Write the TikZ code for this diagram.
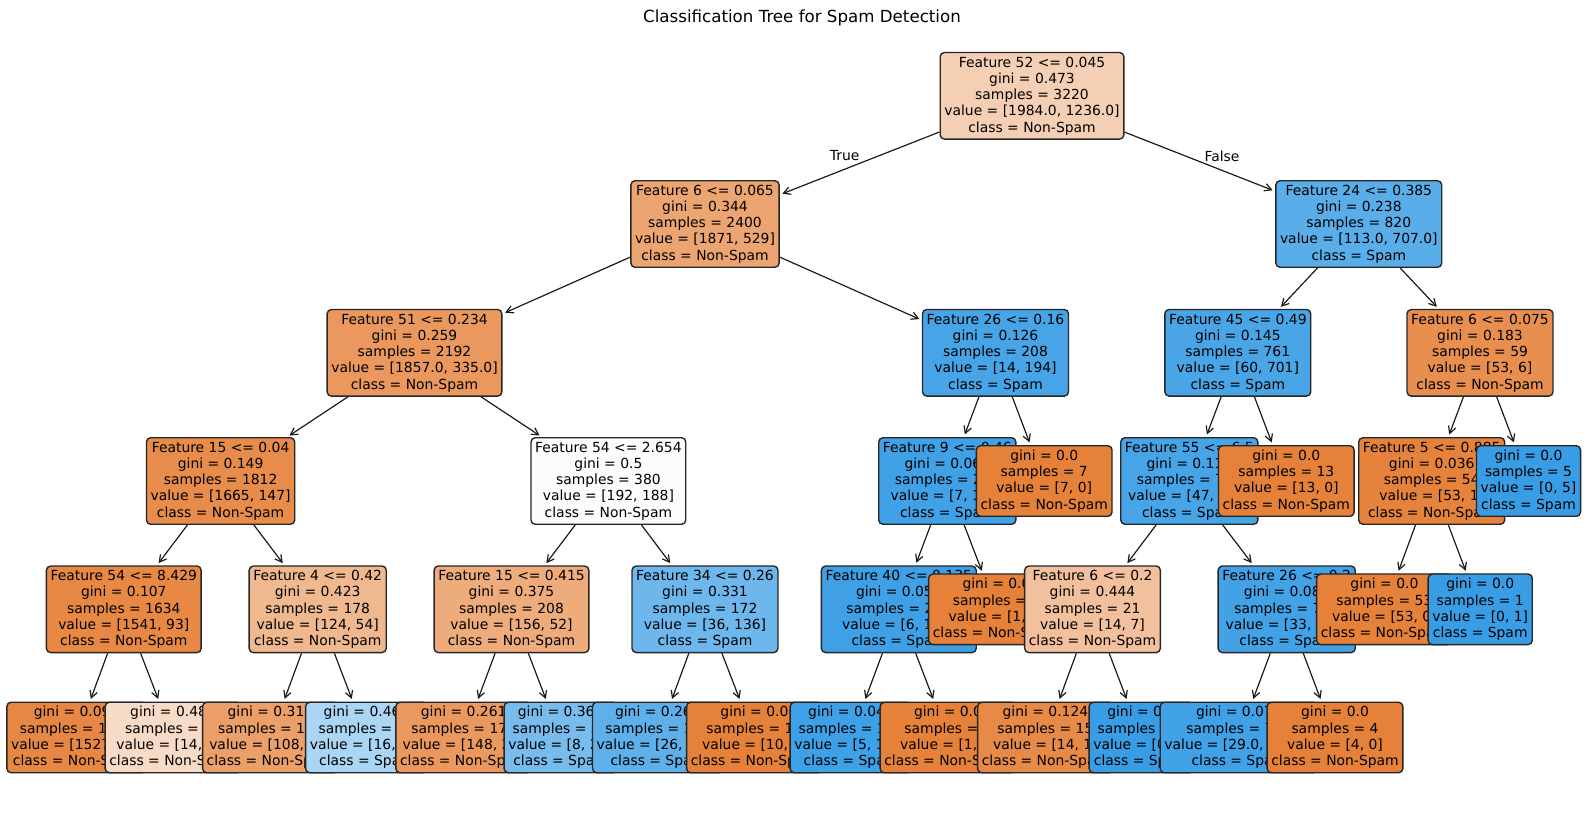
\documentclass[tikz,border=0pt]{standalone}
\usepackage{fontspec}
\setmainfont{DejaVu Sans}
\usetikzlibrary{arrows.meta}
\definecolor{cO}{RGB}{229,129,57}
\definecolor{cB}{RGB}{57,157,229}
\newcommand\nfont{\fontsize{10pt}{11.7pt}\selectfont}
\newcommand\tn[4]{\node[tbox, fill=#2] (#1) at (#3) {#4};}
\pgfdeclarelayer{bg}
\pgfdeclarelayer{lfive}
\pgfdeclarelayer{lfour}
\pgfdeclarelayer{lthree}
\pgfdeclarelayer{ltwo}
\pgfdeclarelayer{lone}
\pgfdeclarelayer{lzero}
\pgfsetlayers{bg,lfive,lfour,lthree,ltwo,lone,lzero,main}
\begin{document}
\begin{tikzpicture}[x=0.72pt,y=-0.72pt,
  tbox/.style={draw=black!85, line width=1pt, rounded corners=3pt, inner xsep=3pt, inner ysep=3pt, align=center, font=\nfont},
  arr/.style={-{Straight Barb[length=5pt,width=5.5pt]}, line width=0.85pt, black!90, shorten >=2pt},
  lbl/.style={font=\nfont, inner sep=0pt}]
\useasboundingbox (0,0) rectangle (1587,812);
\begin{pgfonlayer}{bg}
\fill[white] (0,0) rectangle (1587,812);
\end{pgfonlayer}
% depth 0
\begin{pgfonlayer}{lzero}
\tn{n0}{cO!37.7!white}{1032,95.8}{Feature 52 <= 0.045\\gini = 0.473\\samples = 3220\\value = [1984.0, 1236.0]\\class = Non-Spam}
\end{pgfonlayer}
% depth 1
\begin{pgfonlayer}{lone}
\tn{n1}{cO!71.7!white}{705,224}{Feature 6 <= 0.065\\gini = 0.344\\samples = 2400\\value = [1871, 529]\\class = Non-Spam}
\draw[arr] (n0) -- (n1);
\tn{n24}{cB!84.0!white}{1358.8,224}{Feature 24 <= 0.385\\gini = 0.238\\samples = 820\\value = [113.0, 707.0]\\class = Spam}
\draw[arr] (n0) -- (n24);
\end{pgfonlayer}
% depth 2
\begin{pgfonlayer}{ltwo}
\tn{n2}{cO!82.0!white}{414.5,352.8}{Feature 51 <= 0.234\\gini = 0.259\\samples = 2192\\value = [1857.0, 335.0]\\class = Non-Spam}
\draw[arr] (n1) -- (n2);
\tn{n16}{cB!92.8!white}{995.5,352.8}{Feature 26 <= 0.16\\gini = 0.126\\samples = 208\\value = [14, 194]\\class = Spam}
\draw[arr] (n1) -- (n16);
\tn{n25}{cB!91.4!white}{1237.8,352.8}{Feature 45 <= 0.49\\gini = 0.145\\samples = 761\\value = [60, 701]\\class = Spam}
\draw[arr] (n24) -- (n25);
\tn{n34}{cO!88.7!white}{1480,352.8}{Feature 6 <= 0.075\\gini = 0.183\\samples = 59\\value = [53, 6]\\class = Non-Spam}
\draw[arr] (n24) -- (n34);
\end{pgfonlayer}
% depth 3
\begin{pgfonlayer}{lthree}
\tn{n3}{cO!91.2!white}{220.6,481}{Feature 15 <= 0.04\\gini = 0.149\\samples = 1812\\value = [1665, 147]\\class = Non-Spam}
\draw[arr] (n2) -- (n3);
\tn{n9}{cO!2.1!white}{608.4,481}{Feature 54 <= 2.654\\gini = 0.5\\samples = 380\\value = [192, 188]\\class = Non-Spam}
\draw[arr] (n2) -- (n9);
\tn{n17}{cB!96.4!white}{947.3,481}{Feature 9 <= 0.46\\gini = 0.067\\samples = 201\\value = [7, 194]\\class = Spam}
\draw[arr] (n16) -- (n17);
\tn{n23}{cO}{1044.2,481}{gini = 0.0\\samples = 7\\value = [7, 0]\\class = Non-Spam}
\draw[arr] (n16) -- (n23);
\tn{n26}{cB!93.3!white}{1189.3,481}{Feature 55 <= 6.5\\gini = 0.118\\samples = 748\\value = [47, 701]\\class = Spam}
\draw[arr] (n25) -- (n26);
\tn{n33}{cO}{1286.3,481}{gini = 0.0\\samples = 13\\value = [13, 0]\\class = Non-Spam}
\draw[arr] (n25) -- (n33);
\tn{n35}{cO!98.1!white}{1431.7,481}{Feature 5 <= 0.885\\gini = 0.036\\samples = 54\\value = [53, 1]\\class = Non-Spam}
\draw[arr] (n34) -- (n35);
\tn{n38}{cB}{1528.5,481}{gini = 0.0\\samples = 5\\value = [0, 5]\\class = Spam}
\draw[arr] (n34) -- (n38);
\end{pgfonlayer}
% depth 4
\begin{pgfonlayer}{lfour}
\tn{n4}{cO!94.0!white}{123.8,609.3}{Feature 54 <= 8.429\\gini = 0.107\\samples = 1634\\value = [1541, 93]\\class = Non-Spam}
\draw[arr] (n3) -- (n4);
\tn{n7}{cO!56.5!white}{317.7,609.3}{Feature 4 <= 0.42\\gini = 0.423\\samples = 178\\value = [124, 54]\\class = Non-Spam}
\draw[arr] (n3) -- (n7);
\tn{n10}{cO!66.7!white}{511.5,609.3}{Feature 15 <= 0.415\\gini = 0.375\\samples = 208\\value = [156, 52]\\class = Non-Spam}
\draw[arr] (n9) -- (n10);
\tn{n13}{cB!73.5!white}{705,609.3}{Feature 34 <= 0.26\\gini = 0.331\\samples = 172\\value = [36, 136]\\class = Spam}
\draw[arr] (n9) -- (n13);
\tn{n18}{cB!96.9!white}{898.8,609.3}{Feature 40 <= 0.135\\gini = 0.058\\samples = 200\\value = [6, 194]\\class = Spam}
\draw[arr] (n17) -- (n18);
\tn{n22}{cO}{996.5,609.3}{gini = 0.0\\samples = 1\\value = [1, 0]\\class = Non-Spam}
\draw[arr] (n17) -- (n22);
\tn{n27}{cO!50!white}{1092.5,609.3}{Feature 6 <= 0.2\\gini = 0.444\\samples = 21\\value = [14, 7]\\class = Non-Spam}
\draw[arr] (n26) -- (n27);
\tn{n30}{cB!95.2!white}{1286.7,609.3}{Feature 26 <= 0.2\\gini = 0.087\\samples = 727\\value = [33, 694]\\class = Spam}
\draw[arr] (n26) -- (n30);
\tn{n36}{cO}{1384.4,609.3}{gini = 0.0\\samples = 53\\value = [53, 0]\\class = Non-Spam}
\draw[arr] (n35) -- (n36);
\tn{n37}{cB}{1480.2,609.3}{gini = 0.0\\samples = 1\\value = [0, 1]\\class = Spam}
\draw[arr] (n35) -- (n37);
\end{pgfonlayer}
% depth 5
\begin{pgfonlayer}{lfive}
\tn{n5}{cO!94.6!white}{76.6,737.5}{gini = 0.098\\samples = 1610\\value = [1527, 83]\\class = Non-Spam}
\draw[arr] (n4) -- (n5);
\tn{n6}{cO!28.6!white}{173,737.5}{gini = 0.486\\samples = 24\\value = [14, 10]\\class = Non-Spam}
\draw[arr] (n4) -- (n6);
\tn{n8}{cO!75.9!white}{270.4,737.5}{gini = 0.313\\samples = 134\\value = [108, 26]\\class = Non-Spam}
\draw[arr] (n7) -- (n8);
\tn{n8b}{cB!42.9!white}{366.5,737.5}{gini = 0.463\\samples = 44\\value = [16, 28]\\class = Spam}
\draw[arr] (n7) -- (n8b);
\tn{n11}{cO!81.8!white}{463.7,737.5}{gini = 0.261\\samples = 175\\value = [148, 27]\\class = Non-Spam}
\draw[arr] (n10) -- (n11);
\tn{n12}{cB!68.0!white}{560.6,737.5}{gini = 0.367\\samples = 33\\value = [8, 25]\\class = Spam}
\draw[arr] (n10) -- (n12);
\tn{n14}{cB!80.9!white}{657.8,737.5}{gini = 0.269\\samples = 162\\value = [26, 136]\\class = Spam}
\draw[arr] (n13) -- (n14);
\tn{n15}{cO}{754.4,737.5}{gini = 0.0\\samples = 10\\value = [10, 0]\\class = Non-Spam}
\draw[arr] (n13) -- (n15);
\tn{n19}{cB!97.4!white}{851,737.5}{gini = 0.049\\samples = 199\\value = [5, 194]\\class = Spam}
\draw[arr] (n18) -- (n19);
\tn{n20}{cO}{948,737.5}{gini = 0.0\\samples = 1\\value = [1, 0]\\class = Non-Spam}
\draw[arr] (n18) -- (n20);
\tn{n28}{cO!92.9!white}{1045.4,737.5}{gini = 0.124\\samples = 15\\value = [14, 1]\\class = Non-Spam}
\draw[arr] (n27) -- (n28);
\tn{n29}{cB}{1141.2,737.5}{gini = 0.0\\samples = 6\\value = [0, 6]\\class = Spam}
\draw[arr] (n27) -- (n29);
\tn{n31}{cB!95.8!white}{1238.8,737.5}{gini = 0.077\\samples = 723\\value = [29.0, 694.0]\\class = Spam}
\draw[arr] (n30) -- (n31);
\tn{n32}{cO}{1335,737.5}{gini = 0.0\\samples = 4\\value = [4, 0]\\class = Non-Spam}
\draw[arr] (n30) -- (n32);
\end{pgfonlayer}
% labels
\node[lbl] (tlab) at (844.7,156) {True};
\node[lbl] (flab) at (1222,156) {False};
\node[font=\fontsize{12pt}{14pt}\selectfont, inner sep=0pt] (title) at (802,17.5) {Classification Tree for Spam Detection};
\end{tikzpicture}
\end{document}
